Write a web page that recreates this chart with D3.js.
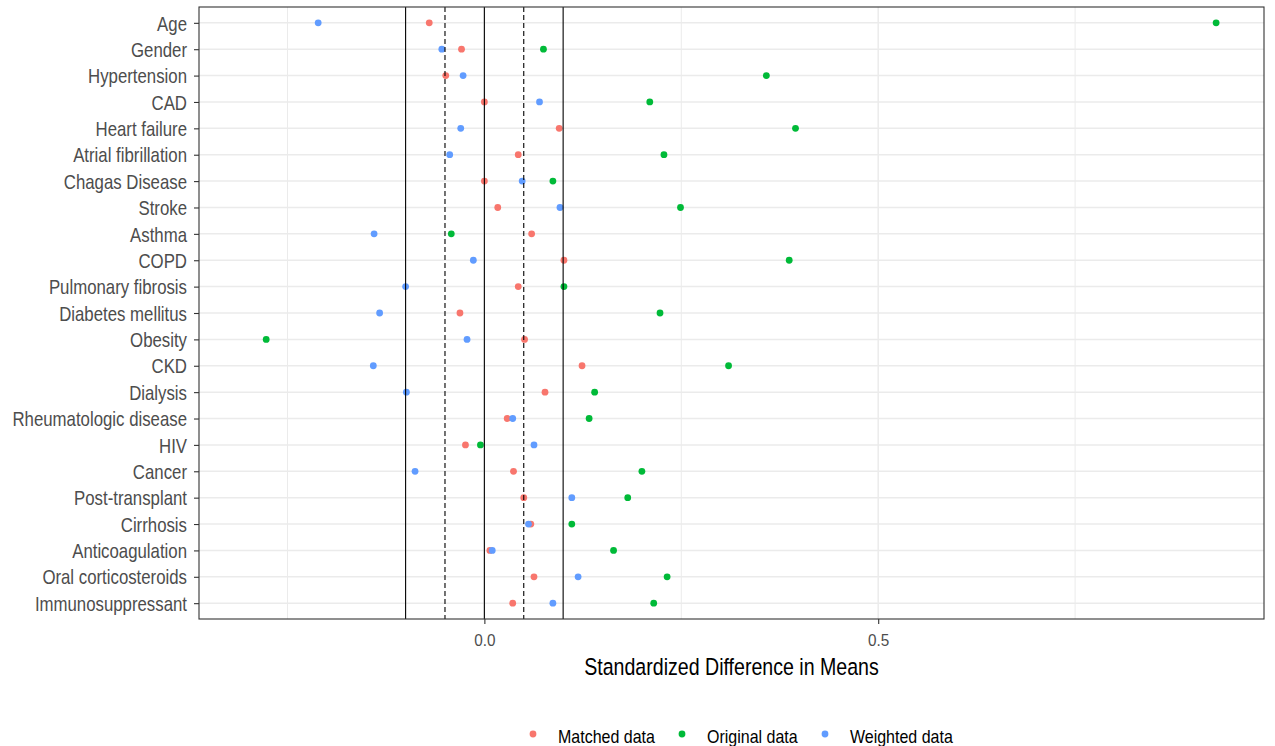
<!DOCTYPE html>
<html>
<head>
<meta charset="utf-8">
<script src="https://cdn.jsdelivr.net/npm/d3@7"></script>
<style>
  body { margin: 0; background: #fff; }
  text { font-family: "Liberation Sans", Arial, sans-serif; }
</style>
</head>
<body>
<svg id="chart" width="1275" height="746"></svg>
<script>
// Covariates, top to bottom
const covariates = ["Age", "Gender", "Hypertension", "CAD", "Heart failure", "Atrial fibrillation",
  "Chagas Disease", "Stroke", "Asthma", "COPD", "Pulmonary fibrosis", "Diabetes mellitus",
  "Obesity", "CKD", "Dialysis", "Rheumatologic disease", "HIV", "Cancer", "Post-transplant",
  "Cirrhosis", "Anticoagulation", "Oral corticosteroids", "Immunosuppressant"];

// Standardized differences in means per sample
const matchedData = [-0.070, -0.029, -0.049, 0.000, 0.095, 0.043,
  0.000, 0.017, 0.060, 0.101, 0.043, -0.031,
  0.051, 0.124, 0.077, 0.029, -0.024, 0.037, 0.050,
  0.059, 0.007, 0.063, 0.036];
const originalData = [0.929, 0.075, 0.358, 0.210, 0.395, 0.228,
  0.087, 0.249, -0.042, 0.387, 0.101, 0.223,
  -0.277, 0.310, 0.140, 0.133, -0.005, 0.200, 0.182,
  0.111, 0.164, 0.232, 0.215];
const weightedData = [-0.211, -0.054, -0.027, 0.070, -0.030, -0.044,
  0.048, 0.096, -0.140, -0.014, -0.100, -0.133,
  -0.022, -0.141, -0.099, 0.036, 0.063, -0.088, 0.111,
  0.056, 0.010, 0.119, 0.087];

const seriesNames = ["Matched data", "Original data", "Weighted data"];
const seriesValues = [matchedData, originalData, weightedData];
const seriesColors = ["#F8766D", "#00BA38", "#619CFF"];

const xTicks = [0.0, 0.5];
const xMinorTicks = [-0.25, 0.25, 0.75];
const solidRefs = [-0.1, 0, 0.1];
const dashedRefs = [-0.05, 0.05];
const xTitle = "Standardized Difference in Means";

const svg = d3.select("#chart");
const panel = { left: 199, right: 1264, top: 7, bottom: 619 };

const x = d3.scaleLinear().domain([-0.3623, 0.9898]).range([panel.left, panel.right]);
const y = d3.scalePoint().domain(covariates).range([panel.top, panel.bottom]).padding(0.6);

// Tall, condensed lettering: stretch text vertically about its baseline
function tallText(sel, px, py, k) {
  sel.attr("x", px).attr("y", py / k).attr("transform", `scale(1,${k})`);
}

// grid
const grid = svg.append("g");
grid.selectAll("line.minor").data(xMinorTicks).join("line")
  .attr("x1", d => x(d)).attr("x2", d => x(d))
  .attr("y1", panel.top).attr("y2", panel.bottom)
  .attr("stroke", "#EBEBEB").attr("stroke-width", 1);
grid.selectAll("line.majorx").data(xTicks).join("line")
  .attr("x1", d => x(d)).attr("x2", d => x(d))
  .attr("y1", panel.top).attr("y2", panel.bottom)
  .attr("stroke", "#EBEBEB").attr("stroke-width", 1.5);
grid.selectAll("line.majory").data(covariates).join("line")
  .attr("x1", panel.left).attr("x2", panel.right)
  .attr("y1", d => y(d)).attr("y2", d => y(d))
  .attr("stroke", "#EBEBEB").attr("stroke-width", 1.5);

// points
const pts = svg.append("g");
seriesNames.forEach((name, i) => {
  pts.selectAll(null).data(covariates.map((c, j) => ({ c, v: seriesValues[i][j] })))
    .join("circle")
    .attr("cx", d => x(d.v)).attr("cy", d => y(d.c))
    .attr("r", 3.4).attr("fill", seriesColors[i]);
});

// reference lines
const refs = svg.append("g");
refs.selectAll("line.solid").data(solidRefs).join("line")
  .attr("x1", d => x(d)).attr("x2", d => x(d))
  .attr("y1", panel.top).attr("y2", panel.bottom)
  .attr("stroke", "#000").attr("stroke-width", 1.1);
refs.selectAll("line.dashed").data(dashedRefs).join("line")
  .attr("x1", d => x(d)).attr("x2", d => x(d))
  .attr("y1", panel.top).attr("y2", panel.bottom)
  .attr("stroke", "#000").attr("stroke-width", 1.1)
  .attr("stroke-dasharray", "5,3");

// panel border
svg.append("rect")
  .attr("x", panel.left).attr("y", panel.top)
  .attr("width", panel.right - panel.left).attr("height", panel.bottom - panel.top)
  .attr("fill", "none").attr("stroke", "#333333").attr("stroke-width", 1.1);

// axes
const yAxis = svg.append("g").attr("transform", `translate(${panel.left},0)`)
  .call(d3.axisLeft(y).tickSize(5).tickPadding(7));
const xAxis = svg.append("g").attr("transform", `translate(0,${panel.bottom})`)
  .call(d3.axisBottom(x).tickValues(xTicks).tickFormat(d3.format(".1f")).tickSize(5).tickPadding(6));
[yAxis, xAxis].forEach(a => {
  a.select(".domain").remove();
  a.selectAll(".tick line").attr("stroke", "#333333").attr("stroke-width", 1.1);
  a.selectAll(".tick text").attr("fill", "#4D4D4D");
});
yAxis.selectAll(".tick text").style("font-size", "16.8px")
  .attr("dy", "0.36em").attr("transform", "scale(1,1.19)");
xAxis.selectAll(".tick text").style("font-size", "15.3px").attr("dy", null)
  .call(tallText, 0, 27, 1.12);

svg.append("text")
  .attr("text-anchor", "middle").attr("fill", "#000")
  .style("font-size", "19.6px").text(xTitle)
  .call(tallText, (panel.left + panel.right) / 2, 675, 1.2);

// legend
const legendX = [533, 682, 825];
const legend = svg.append("g");
seriesNames.forEach((name, i) => {
  legend.append("circle").attr("cx", legendX[i]).attr("cy", 734).attr("r", 3.4).attr("fill", seriesColors[i]);
  legend.append("text").attr("fill", "#000").style("font-size", "16px").text(name)
    .call(tallText, legendX[i] + 25, 743, 1.2);
});
</script>
</body>
</html>
